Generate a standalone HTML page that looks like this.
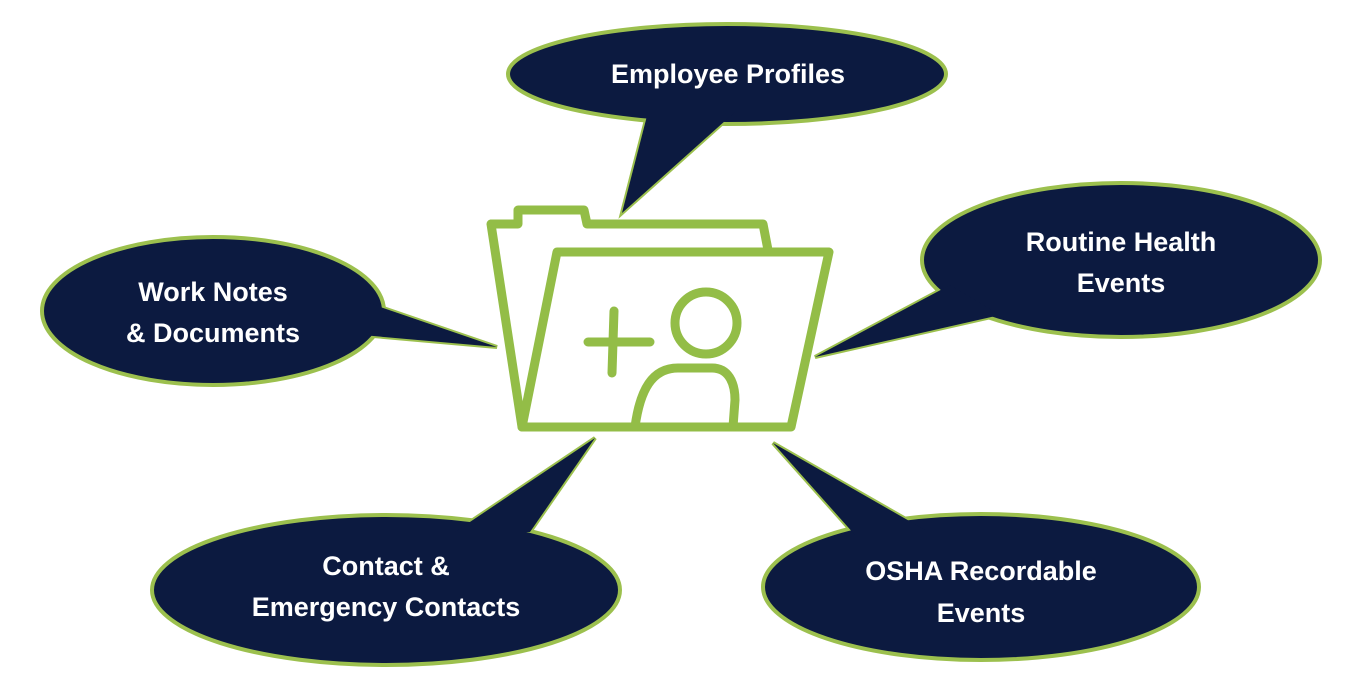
<!DOCTYPE html>
<html><head><meta charset="utf-8"><style>
html,body{margin:0;padding:0;background:#fff;}
svg{display:block;}
text{font-family:"Liberation Sans",sans-serif;font-weight:bold;font-size:27px;fill:#fff;text-anchor:middle;}
</style></head><body>
<svg width="1361" height="689" viewBox="0 0 1361 689">
<g fill="#0c1a40" stroke="#9cc04e" stroke-width="4" stroke-linejoin="miter">
  <polygon points="648,112 622,213 735,112"/>
  <ellipse cx="727" cy="74" rx="219" ry="50"/>
  <polygon points="648,112 622,213 735,112" stroke="none"/>
  <polygon points="360,300 497,347 362,335"/>
  <ellipse cx="213" cy="311" rx="171" ry="74"/>
  <polygon points="360,300 497,347 362,335" stroke="none"/>
  <polygon points="950,285 815,357 1000,315"/>
  <ellipse cx="1121" cy="260" rx="199" ry="77"/>
  <polygon points="950,285 815,357 1000,315" stroke="none"/>
  <polygon points="455,532 595,438 530,532"/>
  <ellipse cx="386" cy="590" rx="234" ry="75"/>
  <polygon points="455,532 595,438 530,532" stroke="none"/>
  <polygon points="855,535 773,443 925,530"/>
  <ellipse cx="981" cy="587" rx="218" ry="73"/>
  <polygon points="855,535 773,443 925,530" stroke="none"/>
</g>
<text x="728" y="83">Employee Profiles</text>
<text x="213" y="301">Work Notes</text>
<text x="213" y="342">&amp; Documents</text>
<text x="1121" y="251">Routine Health</text>
<text x="1121" y="292">Events</text>
<text x="386" y="575">Contact &amp;</text>
<text x="386" y="616">Emergency Contacts</text>
<text x="981" y="580">OSHA Recordable</text>
<text x="981" y="622">Events</text>
<g fill="none" stroke="#93bd47" stroke-width="9" stroke-linejoin="round" stroke-linecap="round">
  <path d="M522,427 L491,224 L518,224 L518,210 L584,210 L587,224 L763,224 L768,250"/>
  <path d="M522,427 L791,427 L829,252 L557,252 L522,427"/>
  <path d="M588,342 L650,342 M614,311 L612,373"/>
  <circle cx="706" cy="323" r="31"/>
  <path d="M635,427 C640,390 652,368 678,368 L712,368 C728,368 735,382 735,400 L733,427"/>
</g>
</svg>
</body></html>
